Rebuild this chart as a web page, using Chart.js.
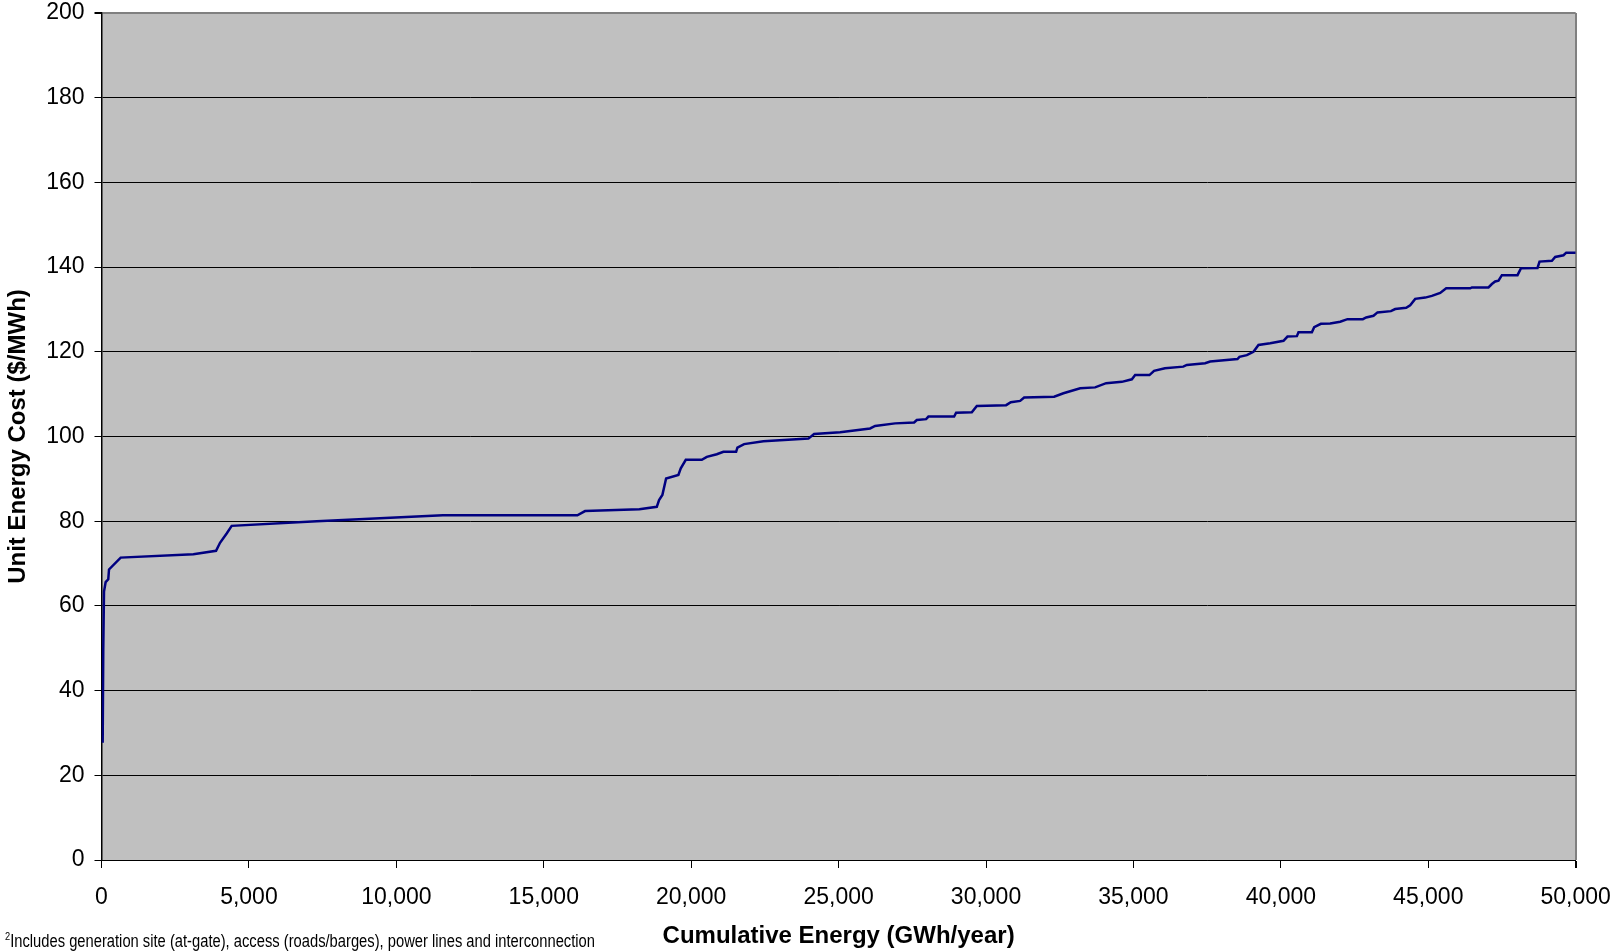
<!DOCTYPE html>
<html>
<head>
<meta charset="utf-8">
<script src="https://cdn.jsdelivr.net/npm/chart.js@4/dist/chart.umd.min.js"></script>
<style>
  html, body { margin: 0; padding: 0; background: #fff; }
  #wrap { position: relative; width: 1614px; height: 952px; overflow: hidden; }
  #note { position: absolute; left: 5px; top: 933px; font-family: "Liberation Sans", Arial, sans-serif; font-size: 17.5px; color: #000; white-space: nowrap; line-height: 17.5px; transform-origin: 0 0; }
  #note sup { font-size: 11px; vertical-align: 7px; line-height: 0; }
</style>
</head>
<body>
<div id="wrap">
  <canvas id="c" width="1614" height="952"></canvas>
  <div id="note"><sup>2</sup>Includes generation site (at-gate), access (roads/barges), power lines and interconnection</div>
</div>
<script>
// Cumulative energy (GWh/year)
const energy = [40, 60, 85, 140, 230, 255, 650, 3115, 3885, 4020, 4245, 4415, 7300, 11580, 16140,
  16400, 18243, 18833, 18911, 19023, 19149, 19566, 19647, 19817, 20360, 20530, 20868, 21093, 21524,
  21568, 21795, 22450, 23976, 24169, 25051, 26069, 26238, 26917, 27561, 27653, 27968, 28047, 28918,
  28986, 29518, 29688, 30682, 30841, 31157, 31293, 32310, 32626, 33193, 33701, 34074, 34607, 34946,
  35058, 35543, 35700, 36068, 36690, 36812, 37432, 37602, 38528, 38596, 38846, 39071, 39241, 39637,
  40089, 40225, 40543, 40598, 41052, 41130, 41357, 41672, 42012, 42260, 42781, 42894, 43142, 43278,
  43733, 43877, 44250, 44386, 44556, 44895, 45122, 45404, 45608, 46422, 46479, 47042, 47157, 47269,
  47381, 47497, 48026, 48141, 48705, 48773, 49193, 49305, 49587, 49678, 50000];
// Unit energy cost ($/MWh)
const cost = [27.7, 49.6, 63.4, 65.6, 66.3, 68.6, 71.4, 72.2, 73.0, 74.9, 77.1, 78.9, 80.0, 81.4, 81.4,
  82.4, 82.8, 83.4, 85.0, 86.2, 90.1, 90.9, 92.5, 94.5, 94.5, 95.2, 95.8, 96.4, 96.4,
  97.4, 98.2, 98.9, 99.5, 100.6, 101.0, 101.9, 102.5, 103.1, 103.3, 103.9, 104.1, 104.7, 104.7,
  105.6, 105.7, 107.2, 107.4, 108.1, 108.4, 109.2, 109.4, 110.2, 111.4, 111.6, 112.6, 112.9, 113.5,
  114.5, 114.5, 115.5, 116.1, 116.5, 116.9, 117.3, 117.7, 118.3, 118.8, 119.2, 120.0, 121.6, 122.0,
  122.6, 123.6, 123.7, 124.6, 124.6, 125.8, 126.6, 126.7, 127.1, 127.7, 127.7, 128.1, 128.5, 129.3,
  129.6, 130.1, 130.4, 131.0, 132.5, 132.8, 133.2, 133.9, 135.0, 135.0, 135.2, 135.2, 136.0, 136.6,
  136.8, 138.1, 138.1, 139.7, 139.8, 141.3, 141.5, 142.4, 142.8, 143.4, 143.4];
const xTicks = [0, 5000, 10000, 15000, 20000, 25000, 30000, 35000, 40000, 45000, 50000];
const yTicks = [0, 20, 40, 60, 80, 100, 120, 140, 160, 180, 200];
const xTitle = 'Cumulative Energy (GWh/year)';
const yTitle = 'Unit Energy Cost ($/MWh)';

const points = energy.map((e, i) => ({ x: e, y: cost[i] }));
const FONT = '"Liberation Sans", Arial, sans-serif';

// fit footnote to its measured width in the reference
(function () {
  const n = document.getElementById('note');
  const w = n.getBoundingClientRect().width;
  if (w > 0) n.style.transform = 'scaleX(' + (590 / w) + ')';
})();

const plotBg = {
  id: 'plotBg',
  beforeDraw(chart) {
    const { ctx, chartArea: a } = chart;
    ctx.save();
    ctx.fillStyle = '#C0C0C0';
    ctx.fillRect(a.left, a.top, a.right - a.left, a.bottom - a.top);
    ctx.restore();
  }
};

const noPad = s => { s.paddingLeft = 0; s.paddingRight = 0; s.paddingTop = 0; s.paddingBottom = 0; };

new Chart(document.getElementById('c'), {
  type: 'line',
  data: {
    datasets: [{
      data: points,
      borderColor: '#000080',
      borderWidth: 2.5,
      pointRadius: 0,
      tension: 0,
      fill: false
    }]
  },
  options: {
    responsive: false,
    animation: false,
    parsing: false,
    layout: { padding: { top: 13, right: 38.3, left: 0, bottom: 0 } },
    plugins: { legend: { display: false }, tooltip: { enabled: false } },
    scales: {
      x: {
        type: 'linear',
        min: 0, max: 50000,
        afterBuildTicks: s => { s.ticks = xTicks.map(v => ({ value: v })); },
        afterFit: s => { s.height = 92; noPad(s); },
        ticks: {
          color: '#000',
          font: { family: FONT, size: 23, lineHeight: 1 },
          padding: 18,
          maxRotation: 0,
          callback: v => v.toLocaleString('en-US')
        },
        grid: {
          drawOnChartArea: true,
          color: c => (c.tick && c.tick.value === 50000) ? '#808080' : 'rgba(0,0,0,0)',
          lineWidth: c => (c.tick && c.tick.value === 50000) ? 2 : 1,
          tickColor: '#000',
          tickLength: 8
        },
        border: { display: true, color: '#000', width: 1 },
        title: {
          display: true, text: xTitle, color: '#000',
          font: { family: FONT, size: 24, weight: 'bold', lineHeight: 1.2 },
          padding: { top: 0, bottom: 1 }
        }
      },
      y: {
        type: 'linear',
        min: 0, max: 200,
        afterBuildTicks: s => { s.ticks = yTicks.map(v => ({ value: v })); },
        afterFit: s => { s.width = 101.5; noPad(s); },
        ticks: {
          color: '#000',
          font: { family: FONT, size: 23, lineHeight: 1 },
          padding: 10
        },
        grid: {
          color: c => (c.tick && c.tick.value === 200) ? '#808080' : '#000',
          lineWidth: c => (c.tick && c.tick.value === 200) ? 2 : 1,
          tickColor: '#000',
          tickLength: 7
        },
        border: { display: true, color: '#000', width: 1.5 },
        title: {
          display: true, text: yTitle, color: '#000',
          font: { family: FONT, size: 24, weight: 'bold', lineHeight: 1.2 },
          padding: { top: 4, bottom: 0 }
        }
      }
    }
  },
  plugins: [plotBg]
});
</script>
</body>
</html>
